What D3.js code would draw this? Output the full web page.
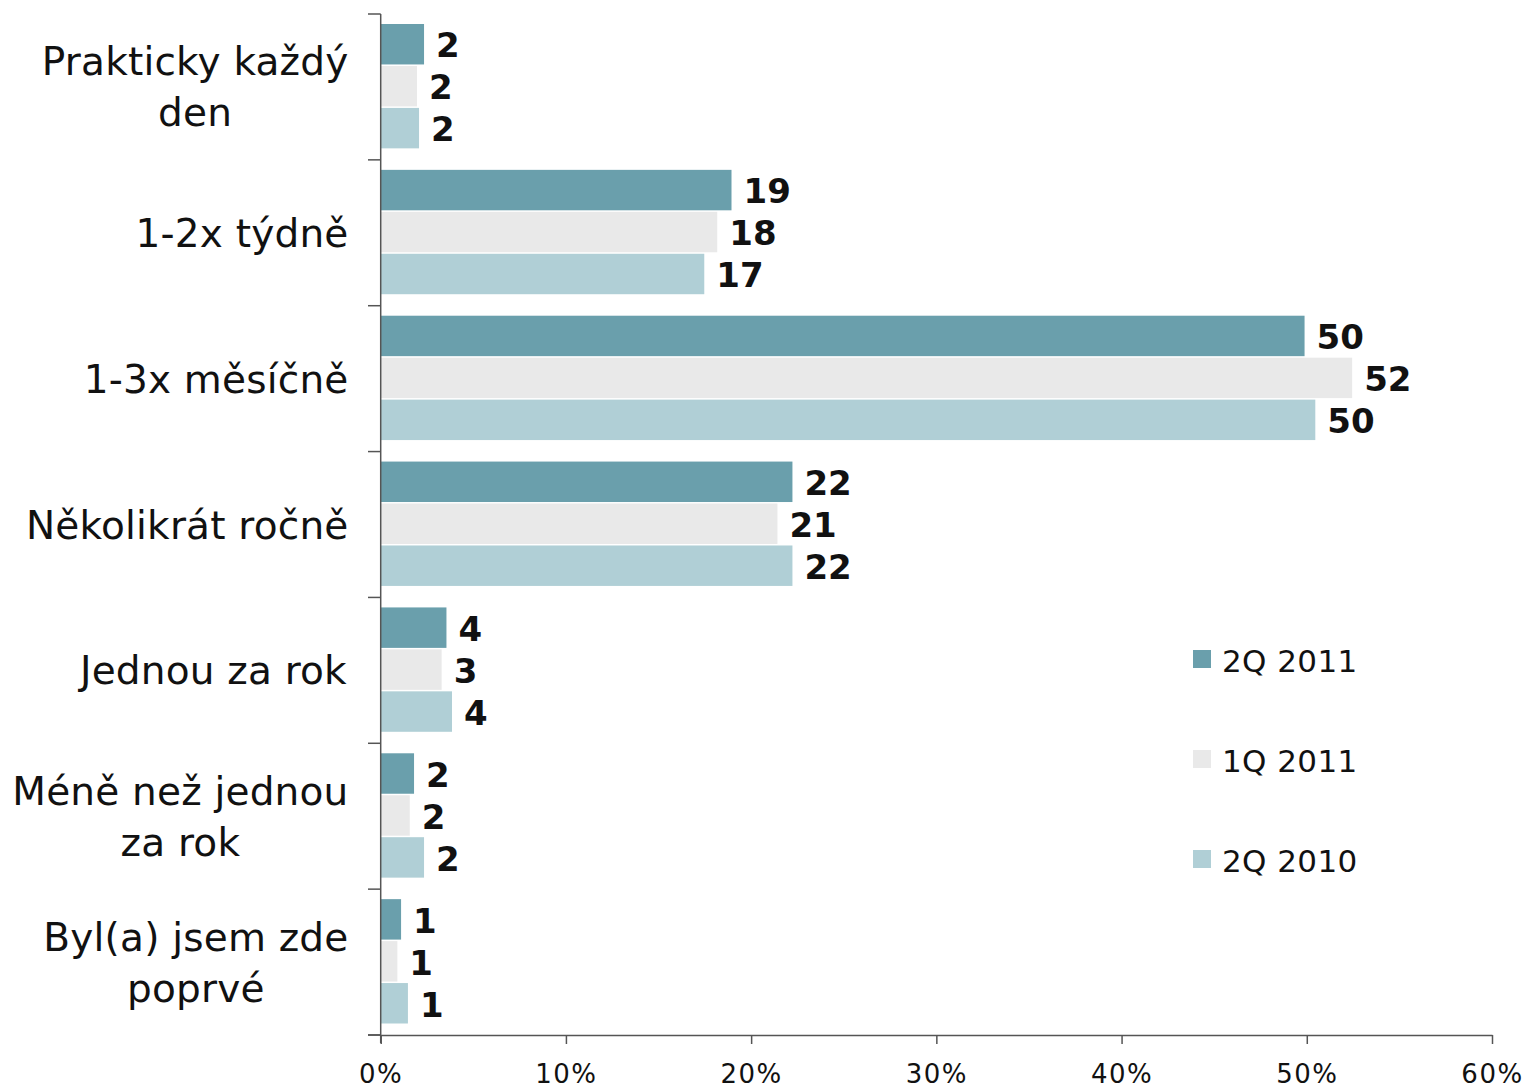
<!DOCTYPE html>
<html><head><meta charset="utf-8">
<script src="https://cdn.jsdelivr.net/npm/d3@7"></script>
<style>body{margin:0;background:#fff}svg{display:block}</style>
</head><body>
<svg id="c" width="1527" height="1088"></svg>
<script>
const categories = [
  ["Prakticky každý", "den"],
  ["1-2x týdně"],
  ["1-3x měsíčně"],
  ["Několikrát ročně"],
  ["Jednou za rok"],
  ["Méně než jednou", "za rok"],
  ["Byl(a) jsem zde", "poprvé"]
];
const series = ["2Q 2011", "1Q 2011", "2Q 2010"];
const colors = ["#6a9fac", "#e9e9e9", "#b0cfd6"];
const values2Q2011 = [2.34, 18.94, 49.88, 22.23, 3.55, 1.80, 1.10];
const values1Q2011 = [1.96, 18.17, 52.45, 21.42, 3.29, 1.57, 0.90];
const values2Q2010 = [2.07, 17.47, 50.46, 22.23, 3.85, 2.34, 1.47];
const tickValues = [0, 10, 20, 30, 40, 50, 60];

const allValues = [values2Q2011, values1Q2011, values2Q2010];
const svg = d3.select("#c");
const FONT = "'DejaVu Sans', Verdana, sans-serif";

const x = d3.scaleLinear().domain([0, 60]).range([380.7, 1492]);
const catKeys = categories.map((c, i) => i);
const y = d3.scaleBand().domain(catKeys).range([14, 1035]).padding(0);
const inner = d3.scaleBand().domain(series).range([10, y.bandwidth() - 10]).padding(0);

// bars
catKeys.forEach(ci => {
  series.forEach((s, si) => {
    const v = allValues[si][ci];
    const y0 = y(ci) + inner(s);
    svg.append("rect")
      .attr("x", x(0))
      .attr("y", y0)
      .attr("width", x(v) - x(0))
      .attr("height", inner.bandwidth() - 1.5)
      .attr("fill", colors[si]);
    svg.append("text")
      .attr("x", x(v) + 12)
      .attr("y", y0 + inner.bandwidth() / 2 + 12.5)
      .attr("font-family", FONT)
      .attr("font-weight", "bold")
      .attr("font-size", 34)
      .attr("fill", "#111")
      .text(d3.format(".0f")(v));
  });
});

// y axis
svg.append("line").attr("x1", x(0)).attr("x2", x(0)).attr("y1", 14).attr("y2", 1043)
  .attr("stroke", "#555").attr("stroke-width", 1.5);
const boundaries = catKeys.map(i => y(i)).concat([y(catKeys.length - 1) + y.bandwidth()]);
boundaries.forEach(b => {
  svg.append("line").attr("x1", 368).attr("x2", x(0)).attr("y1", b).attr("y2", b)
    .attr("stroke", "#555").attr("stroke-width", 1.5);
});

// x axis
const xAxis = d3.axisBottom(x).tickValues(tickValues).tickFormat(d => d + "%").tickSize(9).tickSizeOuter(0);
const gx = svg.append("g").attr("transform", "translate(0,1035)").call(xAxis);
gx.select(".domain").attr("stroke", "#555").attr("stroke-width", 1.5);
svg.append("line").attr("x1", 368).attr("x2", x(0)).attr("y1", 1035).attr("y2", 1035)
  .attr("stroke", "#555").attr("stroke-width", 1.5);
gx.selectAll(".tick line").attr("stroke", "#555").attr("stroke-width", 1.5);
gx.selectAll(".tick text").attr("font-family", FONT).attr("font-size", 26)
  .attr("letter-spacing", 1.5)
  .attr("fill", "#111").attr("dy", 0).attr("y", 1083 - 1035);

// category labels
catKeys.forEach(ci => {
  const lines = categories[ci];
  const cy = y(ci) + y.bandwidth() / 2;
  const g = svg.append("g");
  const t = g.append("text").attr("font-family", FONT).attr("font-size", 39)
    .attr("letter-spacing", 0.2)
    .attr("fill", "#111").attr("text-anchor", "middle");
  lines.forEach((ln, li) => {
    const off = (li - (lines.length - 1) / 2) * 51 + 14;
    t.append("tspan").attr("x", 0).attr("y", cy + off).text(ln);
  });
  const w = t.node().getBBox().width;
  g.attr("transform", `translate(${348.5 - w / 2},0)`);
});

// legend
series.forEach((s, si) => {
  const ly = 650 + si * 100;
  svg.append("rect").attr("x", 1193).attr("y", ly).attr("width", 18).attr("height", 18)
    .attr("fill", colors[si]);
  svg.append("text").attr("x", 1222).attr("y", ly + 22)
    .attr("font-family", FONT).attr("font-size", 31).attr("letter-spacing", 0.4)
    .attr("fill", "#111").text(s);
});
</script>
</body></html>
